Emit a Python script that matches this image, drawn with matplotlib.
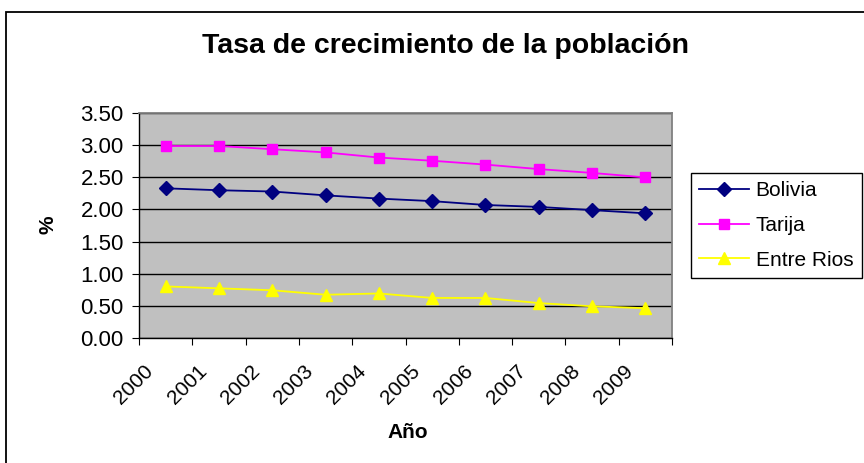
import matplotlib.pyplot as plt
from matplotlib.patches import Rectangle
from matplotlib.ticker import FixedLocator, FormatStrFormatter, NullFormatter
from matplotlib.transforms import ScaledTranslation

plt.rcParams["font.family"] = ["Liberation Sans", "DejaVu Sans"]

years = ["2000", "2001", "2002", "2003", "2004", "2005", "2006", "2007", "2008", "2009"]
bolivia = [2.33, 2.30, 2.28, 2.22, 2.17, 2.13, 2.07, 2.04, 1.99, 1.94]
tarija = [2.99, 2.99, 2.94, 2.89, 2.81, 2.76, 2.70, 2.63, 2.57, 2.50]
entre_rios = [0.80, 0.77, 0.74, 0.67, 0.69, 0.62, 0.62, 0.54, 0.49, 0.46]

fig = plt.figure(figsize=(8.64, 4.63), dpi=100)
fig.patches.append(Rectangle((6 / 864, -0.1), 1.2, 1 - 12 / 463 + 0.1,
                             transform=fig.transFigure, fill=False,
                             edgecolor="black", linewidth=1.3, zorder=0))

ax = fig.add_axes([139 / 864, 1 - 337.7 / 463, 533 / 864, 224.4 / 463])
ax.set_facecolor("#C0C0C0")

xs = [i + 0.5 for i in range(len(years))]
ax.plot(xs, bolivia, color="#000080", marker="D", markersize=7, linewidth=1.3,
        label="Bolivia", zorder=3)
ax.plot(xs, tarija, color="#FF00FF", marker="s", markersize=7.5, linewidth=1.3,
        label="Tarija", zorder=3)
ax.plot(xs, entre_rios, color="#FFFF00", marker="^", markersize=8.5, linewidth=1.3,
        label="Entre Rios", zorder=3)

ax.set_xlim(0, len(years))
ax.set_ylim(0, 3.5)
ax.set_yticks([i * 0.5 for i in range(8)])
ax.yaxis.set_major_formatter(FormatStrFormatter("%.2f"))
ax.grid(axis="y", color="black", linewidth=1)
ax.set_axisbelow(True)

# category boundaries get the tick marks, the year names sit between them
ax.xaxis.set_major_locator(FixedLocator(range(len(years) + 1)))
ax.xaxis.set_major_formatter(NullFormatter())
ax.tick_params(axis="x", length=5, direction="out")
ax.tick_params(axis="y", length=5, direction="out", labelsize=16, pad=6)

shift = ScaledTranslation(-22 / 100, -24 / 100, fig.dpi_scale_trans)
for x, year in zip(xs, years):
    ax.text(x, 0, year, transform=ax.get_xaxis_transform() + shift,
            rotation=45, ha="right", va="top", rotation_mode="anchor",
            fontsize=15, clip_on=False)

for side in ["top", "right"]:
    ax.spines[side].set_color("#808080")
    ax.spines[side].set_linewidth(1.3)
for side in ["left", "bottom"]:
    ax.spines[side].set_color("black")
    ax.spines[side].set_linewidth(1)

fig.text(48 / 864, 1 - 225 / 463, "%", rotation=90, ha="center", va="center",
         fontsize=15, fontweight="bold")
fig.text(408 / 864, 1 - 433 / 463, "Año", ha="center", va="center",
         fontsize=15, fontweight="bold")
fig.text(445 / 864, 1 - 46 / 463, "Tasa de crecimiento de la población",
         ha="center", va="center", fontsize=20.5, fontweight="bold")

leg = fig.legend(loc="upper left", bbox_to_anchor=(691 / 864, 1 - 173 / 463),
                 fontsize=15, frameon=True, fancybox=False, framealpha=1,
                 edgecolor="black", borderpad=0.4, labelspacing=0.75,
                 handlelength=2.4, handletextpad=0.3, borderaxespad=0)
leg.get_frame().set_linewidth(1)

fig.savefig("out.png", dpi=100)
